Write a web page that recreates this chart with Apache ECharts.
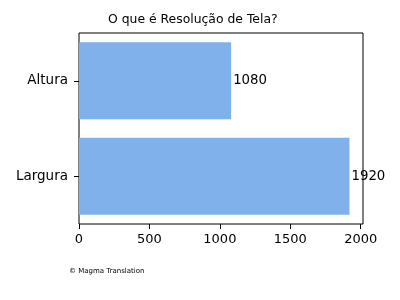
<!DOCTYPE html>
<html>
<head>
<meta charset="utf-8">
<script src="https://cdn.jsdelivr.net/npm/echarts@6/dist/echarts.min.js"></script>
<style>html,body{margin:0;padding:0;background:#fff}#c{width:400px;height:300px}</style>
</head>
<body>
<div id="c"></div>
<script>
const categories = ['Largura', 'Altura'];
const values = [1920, 1080];
const xTicks = [0, 500, 1000, 1500, 2000];
const titleText = 'O que é Resolução de Tela?';
const footerText = '© Magma Translation';

const chart = echarts.init(document.getElementById('c'), null, {renderer: 'canvas'});
const font = 'DejaVu Sans';
chart.setOption({
  animation: false,
  backgroundColor: '#fff',
  title: [{
    text: titleText, left: 108, top: 14, padding: 0,
    textStyle: {fontFamily: font, fontSize: 12.4, fontWeight: 'normal', color: '#000'}
  }, {
    text: footerText, left: 69, top: 268, padding: 0,
    textStyle: {fontFamily: font, fontSize: 7, fontWeight: 'normal', color: '#000'}
  }],
  grid: {left: 79, right: 37, top: 33, bottom: 76, show: true, borderColor: '#000', borderWidth: 1, backgroundColor: 'transparent'},
  xAxis: {
    type: 'value', min: 0, max: 2016,
    splitLine: {show: false},
    axisLine: {show: false},
    axisTick: {show: true, inside: false, length: 5, lineStyle: {color: '#000'}, customValues: xTicks},
    axisLabel: {fontFamily: font, fontSize: 13, color: '#000', margin: 9, customValues: xTicks, formatter: v => String(v)}
  },
  yAxis: {
    type: 'category', data: categories,
    axisLine: {show: false},
    axisTick: {show: true, alignWithLabel: true, length: 5, lineStyle: {color: '#000'}},
    axisLabel: {fontFamily: font, fontSize: 13.5, color: '#000', margin: 11}
  },
  series: [{
    type: 'bar', data: values, barWidth: 77,
    itemStyle: {color: '#80b1eb'},
    label: {show: true, position: 'right', distance: 2, fontFamily: font, fontSize: 13.3, color: '#000'}
  }]
});
</script>
</body>
</html>
